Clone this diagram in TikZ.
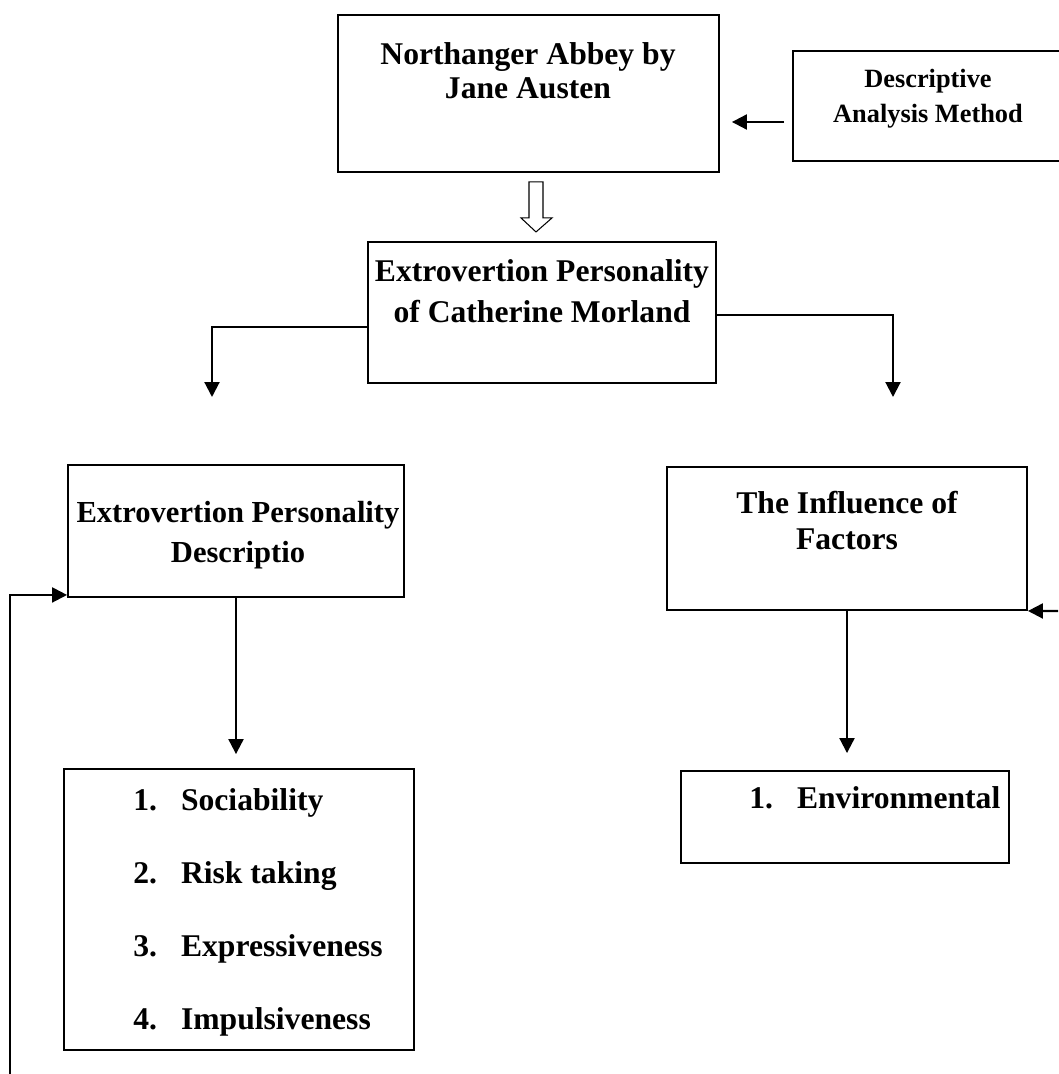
\documentclass[tikz,border=0pt]{standalone}
\usepackage{fontspec}
\setmainfont{Liberation Serif}
\usetikzlibrary{arrows.meta}

\begin{document}
\begin{tikzpicture}[x=0.02cm,y=-0.02cm,
    box/.style={draw,line width=1.1pt,inner sep=0pt},
    txt/.style={anchor=base,inner sep=0pt,font=\bfseries\fontsize{18}{#1}\selectfont},
    txt/.default=20,
    arr/.style={line width=1.2pt,-{Triangle[length=0.3cm,width=0.3cm]}}]
\useasboundingbox (0,0) rectangle (1058,1074);

% boxes
\node[box,minimum width=7.62cm,minimum height=3.14cm] (nab) at (528.5,93.5) {};
\node[box,minimum width=5.44cm,minimum height=2.2cm] (dam) at (929,106) {};
\node[box,minimum width=6.96cm,minimum height=2.82cm] (mid) at (542,312.5) {};
\node[box,minimum width=6.72cm,minimum height=2.64cm] (epd) at (236,531) {};
\node[box,minimum width=7.2cm,minimum height=2.86cm] (tif) at (847,538.5) {};
\node[box,minimum width=7cm,minimum height=5.62cm] (lst) at (239,909.5) {};
\node[box,minimum width=6.56cm,minimum height=1.84cm] (env) at (845,817) {};

% texts
\node[txt=19.3] (nabt) at (528,65) {\begin{tabular}[t]{@{}c@{}}Northanger Abbey by\\ Jane Austen\end{tabular}};
\node[txt,font=\bfseries\fontsize{15}{19.9}\selectfont] (damt) at (928,88) {\begin{tabular}[t]{@{}c@{}}Descriptive\\ Analysis Method\end{tabular}};
\node[txt=23.3] (midt) at (542,282) {\begin{tabular}[t]{@{}c@{}}Extrovertion Personality\\ of Catherine Morland\end{tabular}};
\node[txt,font=\bfseries\fontsize{17.4}{22.8}\selectfont] (epdt) at (238,522) {\begin{tabular}[t]{@{}c@{}}Extrovertion Personality\\ Descriptio\end{tabular}};
\node[txt=20.5] (tift) at (847,513) {\begin{tabular}[t]{@{}c@{}}The Influence of\\ Factors\end{tabular}};
\node[txt=41.7,anchor=base west] (lstt) at (133,810) {\begin{tabular}[t]{@{}l@{\hspace{0.48cm}}l@{}}1. & Sociability\\ 2. & Risk taking\\ 3. & Expressiveness\\ 4. & Impulsiveness\end{tabular}};
\node[txt,anchor=base west] (envt) at (749,808) {\begin{tabular}[t]{@{}l@{\hspace{0.48cm}}l@{}}1. & Environmental\end{tabular}};

% free ends
\coordinate (l1) at (212,397);
\coordinate (r1) at (893,397);
\coordinate (fb) at (10,1074);
\coordinate (fr) at (1058,611);

% connectors
\draw[arr,shorten <=0.16cm,shorten >=0.24cm] ([yshift=-0.32cm]dam.west) -- ([yshift=-0.32cm]dam.west -| nab.east);
\draw[line width=0.6pt] ([xshift=0.15cm,yshift=-0.18cm]nab.south) -- ++(-7,0) -- ++(0,36) -- ++(-8,0)
    -- ++(15,14) -- ++(16,-14) -- ++(-9,0) -- ++(0,-36) -- cycle;
\draw[arr] ([yshift=-0.29cm]mid.west) -| (l1);
\draw[arr] ([yshift=-0.05cm]mid.east) -| (r1);
\draw[arr,shorten >=0.28cm] (epd.south) -- (epd.south |- lst.north);
\draw[arr,shorten >=0.34cm] (tif.south) -- (tif.south |- env.north);
\draw[arr] (fb) |- ([yshift=0.06cm]epd.south west);
\draw[arr] (fr) -- (tif.south east);
\end{tikzpicture}
\end{document}
